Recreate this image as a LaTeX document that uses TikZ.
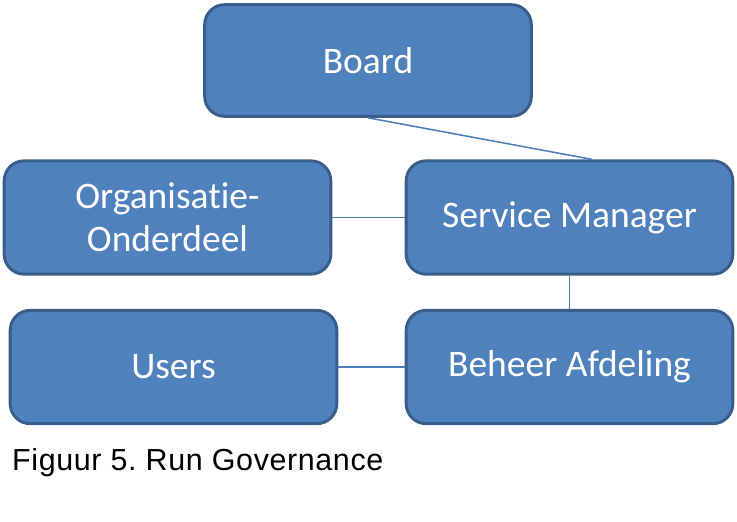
\documentclass[tikz,border=0pt]{standalone}
\usepackage{fontspec}
\setmainfont[Ligatures=NoCommon]{Carlito}
\newfontfamily\captionfont[LetterSpace=2]{Liberation Sans}
\usetikzlibrary{calc,positioning}
\definecolor{boxfill}{HTML}{4F81BD}
\definecolor{boxline}{HTML}{385D8A}
\definecolor{linkline}{HTML}{4A7EBB}
\frenchspacing

\begin{document}
\begin{tikzpicture}[x=0.03cm,y=-0.03cm,
	unit/.style={draw=boxline,fill=boxfill,line width=2.5pt,rounded corners=0.6cm,text=white,
		minimum width=9.8cm,minimum height=3.4cm,align=center,font=\fontsize{32}{37}\selectfont},
	link/.style={draw=linkline,line width=1.3pt}]
		\useasboundingbox (0,0) rectangle (737,521);

		\node[unit,minimum height=3.35cm] (board) at (368,60.5) {Board};
		\node[unit] (org) at (167.5,217.5) {Organisatie-\\Onderdeel};
		\node[unit] (service) at (569.5,217.5) {Service Manager};
		\node[unit] (users) at (173.5,367) {Users};
		\node[unit] (beheer) at (569.5,367) {Beheer Afdeling};

		\draw[link] (board.south) -- ([xshift=0.675cm]service.north);
		\draw[link] (org.east) -- (service.west);
		\draw[link] (service.south) -- (beheer.north);
		\draw[link] (users.east) -- (beheer.west);

		\node[anchor=base west,inner sep=0pt,font=\captionfont\fontsize{26}{30}\selectfont] (caption) at (12,470) {Figuur 5. Run Governance};
	\end{tikzpicture}
\end{document}
